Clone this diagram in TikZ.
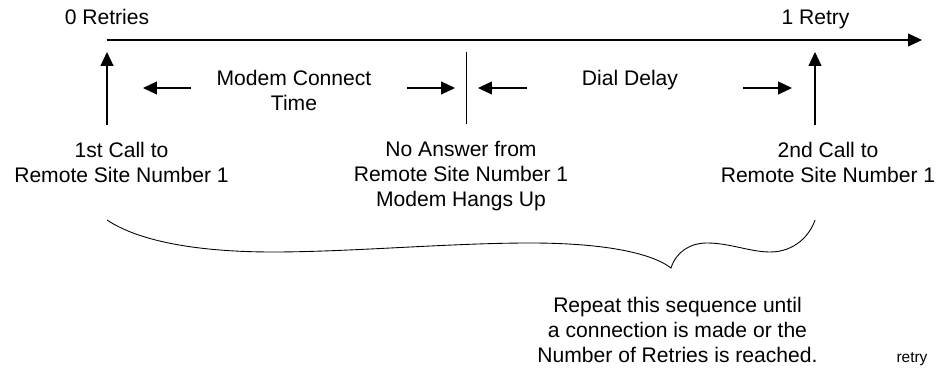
\documentclass[tikz,border=0pt]{standalone}
\usepackage{fontspec}
\setmainfont{Liberation Sans}
\usepackage{tikz}
\usetikzlibrary{arrows.meta, positioning}
\tikzset{
    txt/.style={inner sep=0pt, align=center, font=\fontsize{12}{14.2}\selectfont},
    tag/.style={inner sep=0pt, font=\fontsize{8.8}{10}\selectfont},
    flow/.style={-{Triangle[length=0.28cm, width=0.26cm]}, line width=0.6pt},
    thin line/.style={line width=0.6pt}
}
\begin{document}
\begin{tikzpicture} [
    x=0.02cm, y=-0.02cm,
    brace/.style={line width=0.5pt}
]
    \useasboundingbox (0,0) rectangle (948,371);

    % Time line
    \coordinate (tl_start) at (106.7,40);
    \coordinate (tl_end) at (922,40);
    \node[txt, anchor=base] (zero_retries) at (107,25) {0 Retries};
    \node[txt, anchor=base] (one_retry) at (815.5,25) {1 Retry};

    % Interval labels
    \node[txt] (connect_time) at (294,90.3) {Modem Connect\\Time};
    \node[txt, anchor=base] (dial_delay) at (630,86) {Dial Delay};

    % Events
    \node[txt] (first_call) at (121.5,162.5) {1st Call to\\Remote Site Number 1};
    \node[txt] (no_answer) at (461,176.5) {No Answer from\\Remote Site Number 1\\Modem Hangs Up};
    \node[txt] (second_call) at (828,162.5) {2nd Call to\\Remote Site Number 1};

    % Note
    \node[txt] (repeat_note) at (677.5,330.3) {Repeat this sequence until\\a connection is made or the\\Number of Retries is reached.};
    \node[tag, anchor=base] (retry_tag) at (912,363) {retry};

    % Marks on the time line
    \coordinate (first_foot) at (107,125);
    \coordinate (first_head) at (107,52);
    \coordinate (second_foot) at (815,125);
    \coordinate (second_head) at (815,52);
    \coordinate (hangup_top) at (466.7,52);
    \coordinate (hangup_bot) at (466.7,124);

    % Interval arrows
    \coordinate (ct_left_tail) at (191,88);
    \coordinate (ct_left_tip) at (143,88);
    \coordinate (ct_right_tail) at (407,88);
    \coordinate (ct_right_tip) at (455,88);
    \coordinate (dd_left_tail) at (527,88);
    \coordinate (dd_left_tip) at (478,88);
    \coordinate (dd_right_tail) at (743,88);
    \coordinate (dd_right_tip) at (792,88);

    % Flows
    \draw[flow] (tl_start) -- (tl_end);
    \draw[flow] (first_foot) -- (first_head);
    \draw[flow] (second_foot) -- (second_head);
    \draw[thin line] (hangup_top) -- (hangup_bot);
    \draw[flow] (ct_left_tail) -- (ct_left_tip);
    \draw[flow] (ct_right_tail) -- (ct_right_tip);
    \draw[flow] (dd_left_tail) -- (dd_left_tip);
    \draw[flow] (dd_right_tail) -- (dd_right_tip);

    % Brace
    \coordinate (brace_left) at (107,220);
    \coordinate (brace_tip) at (671,268);
    \coordinate (brace_right) at (815,220);
    \draw[brace] (brace_left) .. controls (140,242) and (200,252) .. (273,252)
        .. controls (350,252) and (450,243) .. (530,243)
        .. controls (600,243) and (650,252) .. (brace_tip)
        .. controls (676,252) and (690,243) .. (707,243)
        .. controls (730,243) and (750,252) .. (770,252)
        .. controls (795,252) and (810,235) .. (brace_right);
\end{tikzpicture}
\end{document}
